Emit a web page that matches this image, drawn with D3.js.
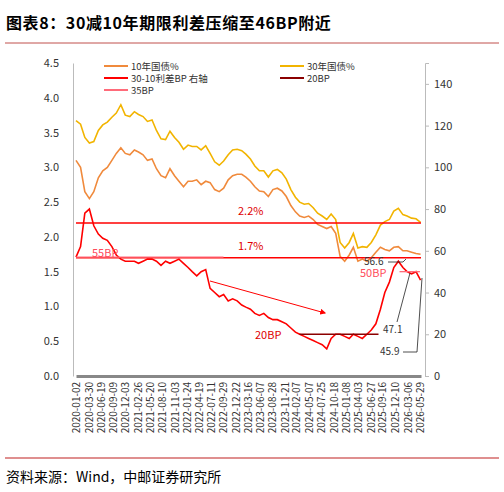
<!DOCTYPE html><html><head><meta charset="utf-8">
<script src="https://cdn.jsdelivr.net/npm/d3@7"></script>
<style>body{margin:0;background:#fff}text{font-family:"Noto Sans CJK SC","DejaVu Sans",sans-serif}</style></head><body>
<svg id="c" width="504" height="492"></svg>
<script>
const tickLabels=["2020-01-02","2020-03-30","2020-06-19","2020-09-09","2020-12-03","2021-02-26","2021-05-20","2021-08-10","2021-11-03","2022-01-24","2022-04-19","2022-07-11","2022-09-29","2022-12-22","2023-03-16","2023-06-07","2023-08-28","2023-11-21","2024-02-07","2024-05-07","2024-07-25","2024-10-18","2025-01-08","2025-04-03","2025-06-27","2025-09-16","2025-12-10","2026-03-06","2026-05-29"];
const y10=[3.10,3.00,2.65,2.55,2.65,2.85,2.95,3.00,3.10,3.20,3.28,3.20,
3.18,3.25,3.22,3.18,3.10,3.12,2.98,2.88,2.85,2.98,2.88,2.80,
2.72,2.80,2.80,2.82,2.75,2.80,2.78,2.68,2.65,2.70,2.82,2.88,
2.90,2.90,2.86,2.80,2.72,2.66,2.65,2.58,2.68,2.70,2.66,2.58,
2.45,2.36,2.30,2.28,2.30,2.25,2.18,2.15,2.12,2.15,2.05,1.72,
1.65,1.74,1.85,1.65,1.68,1.65,1.70,1.78,1.85,1.82,1.80,1.85,
1.86,1.80,1.80,1.78,1.76,1.75];
const y30=[3.67,3.62,3.43,3.35,3.37,3.53,3.61,3.65,3.72,3.78,3.90,3.75,
3.73,3.80,3.76,3.73,3.66,3.68,3.53,3.41,3.40,3.52,3.43,3.36,
3.26,3.32,3.30,3.30,3.25,3.31,3.20,3.08,3.03,3.09,3.18,3.25,
3.26,3.24,3.19,3.12,3.02,2.95,2.95,2.86,2.95,2.97,2.92,2.83,
2.68,2.57,2.50,2.47,2.48,2.42,2.34,2.30,2.25,2.33,2.25,1.92,
1.84,1.92,2.05,1.84,1.86,1.85,1.92,2.03,2.17,2.22,2.25,2.37,
2.41,2.32,2.30,2.27,2.26,2.21];
const spread=[57,62,78,80,72,68,66,65,62,58,56,55,
55,55,54,55,56,56,55,53,55,54,55,56,
54,52,50,48,50,51,42,40,38,39,36,37,
36,34,33,32,30,29,30,28,27,27,26,25,
23,21,20,19,18,17,16,15,13,18,20,20,
19,18,20,19,18,20,22,25,32,40,45,52,
55,52,50,49,50,46];
const dates=y10.map((d,i)=>new Date(2020,i,2));
const P=d3.timeParse("%Y-%m-%d");
const svg=d3.select("#c");
const x=d3.scaleTime().domain([P("2020-01-02"),P("2026-06-05")]).range([76,421]);
const yl=d3.scaleLinear().domain([0,4.5]).range([376,63]);
const yr=d3.scaleLinear().domain([0,150]).range([376,63]);
svg.append("text").attr("x",6).attr("y",29).attr("font-size",16).attr("font-weight","bold").attr("letter-spacing",0.6).text("图表8：30减10年期限利差压缩至46BP附近");
svg.append("line").attr("x1",5).attr("x2",499).attr("y1",43).attr("y2",43).attr("stroke","#c0504d").attr("stroke-width",1);
svg.append("line").attr("x1",5).attr("x2",499).attr("y1",458).attr("y2",458).attr("stroke","#d46a6a").attr("stroke-width",1.5);
svg.append("text").attr("x",6).attr("y",482).attr("font-size",14).text("资料来源：Wind，中邮证券研究所");
const la=svg.append("g").attr("transform","translate(73,0)").call(d3.axisLeft(yl).tickValues(d3.range(0,4.51,0.5)).tickFormat(d3.format(".1f")).tickSize(0).tickPadding(14));
const ra=svg.append("g").attr("transform","translate(425,0)").call(d3.axisRight(yr).tickValues(d3.range(0,141,20)).tickSize(4).tickPadding(5));
[la,ra].forEach(g=>{g.selectAll("path,line").attr("stroke","#bbb");g.selectAll("text").attr("font-size",11).attr("fill","#333").attr("font-family","Liberation Sans,Arial");});
const xa=svg.append("g").attr("transform","translate(0,376)").call(d3.axisBottom(x).tickValues(tickLabels.map(P)).tickFormat(d3.timeFormat("%Y-%m-%d")).tickSize(0).tickPadding(4));
xa.select("path").attr("stroke","#888").attr("stroke-width",3);
xa.selectAll("text").attr("font-size",10).attr("fill","#333").attr("font-family","Liberation Sans,Arial").attr("transform","rotate(-90)").attr("text-anchor","end").attr("dx","-6").attr("dy","0.35em").attr("x",0).attr("y",0);
const ln=(s,v,c,w)=>svg.append("path").datum(v).attr("fill","none").attr("stroke",c).attr("stroke-width",w).attr("d",d3.line().x((d,i)=>x(dates[i])).y(d=>s(d)));
ln(yl,y30,"#f2b400",1.6);
ln(yl,y10,"#f08a3c",1.6);
ln(yr,spread,"#ff0000",1.6);
const h=(s,v,a,b,c,w)=>svg.append("line").attr("x1",x(P(a))).attr("x2",x(P(b))).attr("y1",s(v)).attr("y2",s(v)).attr("stroke",c).attr("stroke-width",w);
h(yl,2.2,"2020-01-02","2026-06-05","#ff0000",1.3);
h(yl,1.7,"2020-01-02","2026-06-05","#ff0000",1.3);
h(yr,57,"2020-01-02","2022-10-01","#ff6b7a",1.3);
h(yr,20,"2024-03-01","2025-08-20","#8b0000",1.3);
h(yr,50,"2026-01-10","2026-05-29","#ff6b7a",1.3);
const t=(s,xx,yy,c,sz)=>svg.append("text").attr("x",xx).attr("y",yy).attr("fill",c).attr("font-size",sz||11).text(s);
t("2.2%",238,215,"#e00000");t("1.7%",238,250,"#e00000");t("55BP",92,257,"#ff4b5a");t("20BP",255,339,"#e00000");t("50BP",360,277,"#ff4b5a");
t("56.6",364,265,"#333",10);t("47.1",383,333,"#333",10);t("45.9",380,355,"#333",10);
svg.append("defs").append("marker").attr("id","ar").attr("viewBox","0 0 10 10").attr("refX",8).attr("refY",5).attr("markerWidth",6).attr("markerHeight",6).attr("orient","auto").append("path").attr("d","M0,0L10,5L0,10z").attr("fill","#ff0000");
svg.append("line").attr("x1",210).attr("y1",281).attr("x2",325).attr("y2",313).attr("stroke","#ff0000").attr("stroke-width",1).attr("marker-end","url(#ar)");
const pl=(pts)=>svg.append("polyline").attr("points",pts).attr("fill","none").attr("stroke","#222").attr("stroke-width",0.8);
pl("388,262 403,262 406,259");pl("397,322 410,273");pl("403,352 417,352 422,278");
const leg=[["10年国债%","#f08a3c",104,66],["30-10利差BP 右轴","#ff0000",104,78],["35BP","#ff6b7a",104,90],["30年国债%","#f2b400",280,66],["20BP","#8b0000",280,78]];
leg.forEach(([s,c,lx,ly])=>{svg.append("line").attr("x1",lx).attr("x2",lx+24).attr("y1",ly).attr("y2",ly).attr("stroke",c).attr("stroke-width",2);t(s,lx+27,ly+3.5,"#333",9.5);});
</script></body></html>
